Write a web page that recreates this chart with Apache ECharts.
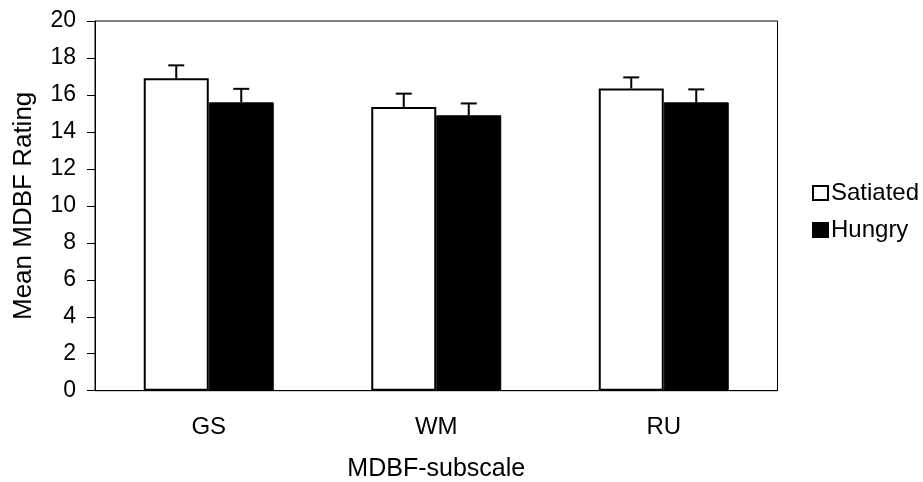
<!DOCTYPE html>
<html>
<head>
<meta charset="utf-8">
<script src="https://cdn.jsdelivr.net/npm/echarts@6/dist/echarts.min.js"></script>
<style>
  html, body { margin: 0; padding: 0; background: #fff; }
  #chart { width: 923px; height: 482px; }
</style>
</head>
<body>
<div id="chart"></div>
<script>
// MDBF subscale means by condition, with standard errors
const subscales = ['GS', 'WM', 'RU'];
const satiatedMeans = [16.9, 15.35, 16.35];
const satiatedErr = [0.7, 0.72, 0.6];
const hungryMeans = [15.6, 14.9, 15.6];
const hungryErr = [0.73, 0.64, 0.7];
const yTicks = [0, 2, 4, 6, 8, 10, 12, 14, 16, 18, 20];

const FONT = '"Liberation Sans", Arial, sans-serif';
const CATEGORY_GAP = 0.4286; // share of each band left empty

// Upward-only error whiskers, positioned over the grouped bars
function errorBars(means, errs, side) {
  return {
    type: 'custom',
    silent: true,
    z: 5,
    data: means.map((m, i) => [i, m, m + errs[i]]),
    renderItem: function (params, api) {
      const band = api.size([1, 0])[0];
      const barW = band * (1 - CATEGORY_GAP) / 2;
      const base = api.coord([api.value(0), api.value(1)]);
      const top = api.coord([api.value(0), api.value(2)]);
      const x = base[0] + side * barW / 2;
      const cap = 8;
      const style = { stroke: '#000', lineWidth: 2, fill: null };
      return {
        type: 'group',
        children: [
          { type: 'line', shape: { x1: x, y1: base[1], x2: x, y2: top[1] }, style: style },
          { type: 'line', shape: { x1: x - cap, y1: top[1], x2: x + cap, y2: top[1] }, style: style }
        ]
      };
    }
  };
}

const chart = echarts.init(document.getElementById('chart'), null, { renderer: 'canvas' });
chart.setOption({
  animation: false,
  backgroundColor: '#fff',
  textStyle: { fontFamily: FONT, color: '#000' },
  grid: {
    left: 95, right: 145.5, top: 21, bottom: 91.3,
    outerBoundsMode: 'none',
    containLabel: false,
    show: true, borderColor: '#000', borderWidth: 1, backgroundColor: 'transparent'
  },
  legend: {
    orient: 'vertical',
    left: 807, top: 176,
    itemWidth: 15, itemHeight: 14, itemGap: 13,
    icon: 'rect',
    textStyle: { fontFamily: FONT, fontSize: 24, color: '#000', padding: [0, 0, 0, -2] },
    data: ['Satiated', 'Hungry']
  },
  xAxis: {
    type: 'category',
    data: subscales,
    name: 'MDBF-subscale',
    nameLocation: 'middle',
    nameGap: 66,
    nameTextStyle: { fontFamily: FONT, fontSize: 25, color: '#000' },
    axisLine: { lineStyle: { color: '#000', width: 1 } },
    axisTick: { show: false },
    axisLabel: { fontFamily: FONT, fontSize: 24, color: '#000', margin: 25 }
  },
  yAxis: {
    type: 'value',
    min: yTicks[0],
    max: yTicks[yTicks.length - 1],
    interval: yTicks[1] - yTicks[0],
    name: 'Mean MDBF Rating',
    nameLocation: 'middle',
    nameGap: 58,
    nameTextStyle: { fontFamily: FONT, fontSize: 26, color: '#000' },
    splitLine: { show: false },
    axisLine: { show: true, lineStyle: { color: '#000', width: 1 } },
    axisTick: { show: true, length: 8, lineStyle: { color: '#000' } },
    axisLabel: { fontFamily: FONT, fontSize: 23, color: '#000', margin: 19 }
  },
  series: [
    {
      name: 'Satiated',
      type: 'bar',
      data: satiatedMeans,
      barGap: '0%',
      barCategoryGap: (CATEGORY_GAP * 100) + '%',
      itemStyle: { color: '#fff', borderColor: '#000', borderWidth: 2 }
    },
    {
      name: 'Hungry',
      type: 'bar',
      data: hungryMeans,
      itemStyle: { color: '#000', borderColor: '#000', borderWidth: 1 }
    },
    errorBars(satiatedMeans, satiatedErr, -1),
    errorBars(hungryMeans, hungryErr, 1)
  ]
});
</script>
</body>
</html>
